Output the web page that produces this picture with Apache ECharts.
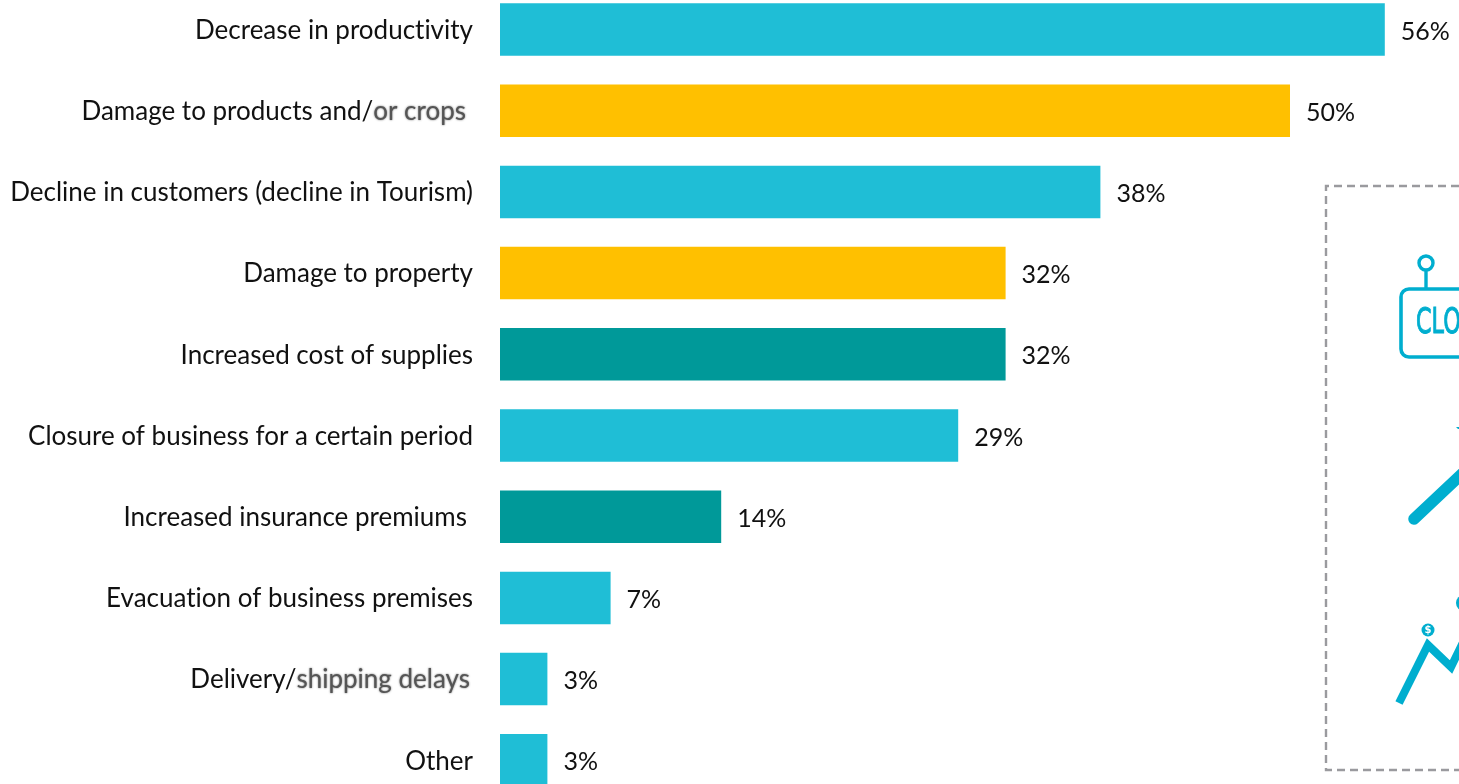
<!DOCTYPE html>
<html>
<head>
<meta charset="utf-8">
<style>html,body{margin:0;padding:0;background:#fff;overflow:hidden}#chart{width:1459px;height:784px}</style>
<script src="https://cdn.jsdelivr.net/npm/echarts@6/dist/echarts.min.js"></script>
</head>
<body>
<div id="chart"></div>
<script>
// Reported business impacts, largest first
const categories = [
  'Decrease in productivity',
  'Damage to products and/or crops',
  'Decline in customers (decline in Tourism)',
  'Damage to property',
  'Increased cost of supplies',
  'Closure of business for a certain period',
  'Increased insurance premiums',
  'Evacuation of business premises',
  'Delivery/shipping delays',
  'Other'
];
const shares = [56, 50, 38, 32, 32, 29, 14, 7, 3, 3];
const groups = ['direct', 'damage', 'direct', 'damage', 'cost', 'direct', 'cost', 'direct', 'direct', 'direct'];
const groupColors = { direct: '#1FBED6', damage: '#FFC000', cost: '#009999' };

const ICON = '#00AECF';
const BASE_FONT = 'Lato, "Open Sans", sans-serif';
const NAME_SIZE = 26;

// Splits a category into its crisp part and its softened tail
const softTails = { 'Damage to products and/or crops': ['or crops', 'softA'], 'Delivery/shipping delays': ['shipping delays', 'softB'] };
function labelText(name) {
  const tail = softTails[name];
  if (tail) return '{crisp|' + name.slice(0, -tail[0].length) + '}{' + tail[1] + '|' + tail[0] + '}';
  if (name === 'Increased insurance premiums') return '{inset|' + name + '}';
  return '{crisp|' + name + '}';
}
const softStyle = { fontSize: NAME_SIZE, fontFamily: BASE_FONT, color: '#555', textShadowColor: 'rgba(70,70,70,.8)', textShadowBlur: 2 };

const chart = echarts.init(document.getElementById('chart'), null, { renderer: 'canvas' });
const option = {
  animation: false,
  backgroundColor: '#fff',
  grid: { left: 500, top: -11.1, width: 948, height: 812, outerBoundsMode: 'none' },
  xAxis: { type: 'value', min: 0, max: 60, show: false },
  yAxis: {
    type: 'category', inverse: true, data: categories,
    axisLine: { show: false }, axisTick: { show: false },
    axisLabel: {
      margin: 27, color: '#000', fontSize: NAME_SIZE, fontFamily: BASE_FONT, interval: 0,
      formatter: labelText,
      rich: {
        crisp: { fontSize: NAME_SIZE, fontFamily: BASE_FONT, color: '#111', padding: [2, 0, 0, 0] },
        inset: { fontSize: NAME_SIZE, fontFamily: BASE_FONT, color: '#111', padding: [2, 6, 0, 0] },
        softA: Object.assign({ padding: [2, 7, 0, 0] }, softStyle),
        softB: Object.assign({ padding: [2, 3, 0, 0] }, softStyle)
      }
    }
  },
  series: [{
    type: 'bar',
    barWidth: 52.5,
    data: shares.map((v, i) => ({ value: v, itemStyle: { color: groupColors[groups[i]] } })),
    label: {
      show: true, position: 'right', distance: 16, offset: [0, 2],
      formatter: '{c}%', color: '#111', fontSize: 25, fontFamily: BASE_FONT
    }
  }],
  graphic: [
    // Dashed panel running off the right side of the page
    { type: 'polyline', silent: true, shape: { points: [[1459, 186], [1326, 186], [1326, 770], [1459, 770]] },
      style: { fill: 'none', stroke: '#9A9A9E', lineWidth: 2.4, lineDash: [8, 5] } },

    // Hanging "closed" sign
    { type: 'circle', silent: true, shape: { cx: 1426, cy: 263, r: 7 }, style: { fill: '#fff', stroke: ICON, lineWidth: 3.4 } },
    { type: 'line', silent: true, shape: { x1: 1426, y1: 270, x2: 1426, y2: 289 }, style: { stroke: ICON, lineWidth: 3.4 } },
    { type: 'rect', silent: true, shape: { x: 1401, y: 289, width: 120, height: 68, r: 8 }, style: { fill: '#fff', stroke: ICON, lineWidth: 3.6 } },
    { type: 'text', silent: true, x: 1416, y: 306, scaleX: 0.62, style: { text: 'CLO', fill: ICON, stroke: ICON, lineWidth: 1, font: '36px "DejaVu Sans", sans-serif' } },

    // Rising arrow
    { type: 'line', silent: true, shape: { x1: 1414, y1: 519, x2: 1480, y2: 457 }, style: { stroke: ICON, lineWidth: 11.5, lineCap: 'round' } },
    { type: 'polygon', silent: true, shape: { points: [[1456, 427], [1459, 427], [1459, 429], [1458, 429]] }, style: { fill: ICON } },

    // Zigzag price trend with coins
    { type: 'polyline', silent: true, shape: { points: [[1399, 703], [1428, 645], [1451, 667], [1470, 628]] }, style: { fill: 'none', stroke: ICON, lineWidth: 8, lineJoin: 'miter' } },
    { type: 'circle', silent: true, shape: { cx: 1428, cy: 630, r: 6.5 }, style: { fill: ICON } },
    { type: 'text', silent: true, x: 1428, y: 630, style: { text: '$', fill: '#fff', font: 'bold 10px "DejaVu Sans", sans-serif', align: 'center', verticalAlign: 'middle' } },
    { type: 'circle', silent: true, shape: { cx: 1464, cy: 603, r: 8 }, style: { fill: ICON } }
  ]
};
chart.setOption(option);
// Plain glyph shaping keeps "ti" as two separate letters; the second pass repaints with it
document.querySelectorAll('#chart canvas').forEach(c => { c.getContext('2d').textRendering = 'optimizeSpeed'; });
chart.setOption(option, true);
</script>
</body>
</html>
